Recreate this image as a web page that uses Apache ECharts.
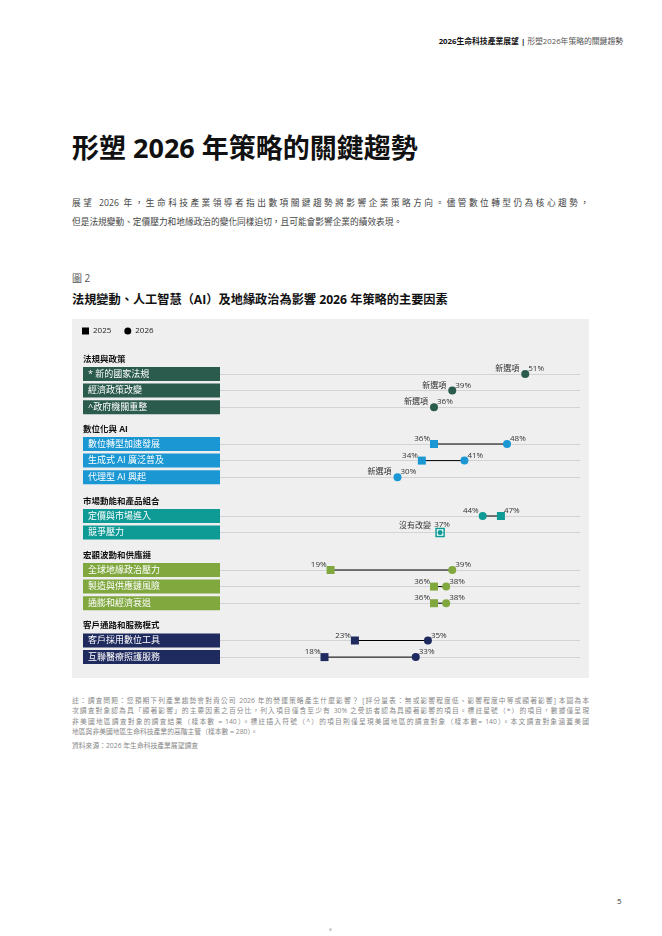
<!DOCTYPE html>
<html>
<head>
<title>2026 生命科技產業展望</title>
<meta charset="utf-8">
<script type="text/javascript" src="https://cdn.jsdelivr.net/npm/echarts@6.0.0/dist/echarts.min.js"></script>
<style>
	body { margin: 0; background: #fff; font-family: 'Open Sans', 'Noto Sans CJK TC', sans-serif; }
	.page { position: relative; width: 662px; height: 936px; overflow: hidden; }
	.abs { position: absolute; white-space: nowrap; }
	.just { text-align: justify; text-align-last: justify; }
</style>
</head>
<body>
<div class="page">
	<div class="abs" style="right:39px; top:36px; font-size:7.8px; line-height:11px; color:#555;"><b style="color:#111">2026生命科技產業展望</b> <b style="color:#111">|</b> 形塑2026年策略的關鍵趨勢</div>

	<div class="abs" style="left:72px; top:131px; font-size:27px; line-height:33px; font-weight:bold; color:#111;">形塑 2026 年策略的關鍵趨勢</div>

	<div class="abs just" style="left:72px; top:194px; width:517px; font-size:8.7px; line-height:19px; color:#444;">展望 2026 年，生命科技產業領導者指出數項關鍵趨勢將影響企業策略方向。儘管數位轉型仍為核心趨勢，</div>
	<div class="abs" style="left:72px; top:213px; font-size:8.7px; line-height:19px; color:#444;">但是法規變動、定價壓力和地緣政治的變化同樣迫切，且可能會影響企業的績效表現。</div>

	<div class="abs" style="left:72px; top:272px; font-size:10px; line-height:12px; color:#555;">圖 2</div>
	<div class="abs" style="left:72px; top:292px; font-size:12.2px; line-height:16px; font-weight:bold; color:#111;">法規變動、人工智慧（AI）及地緣政治為影響 2026 年策略的主要因素</div>

	<div id="main" style="position:absolute; left:72px; top:319px; width:517px; height:359px; background:#efefef;"></div>

	<div class="abs just" style="left:72px; top:696px; width:517px; font-size:6.8px; line-height:10.3px; color:#888;">註：調查問題：您預期下列產業趨勢會對貴公司 2026 年的營運策略產生什麼影響？ [評分量表：無或影響程度低、影響程度中等或顯著影響] 本圖為本</div>
	<div class="abs just" style="left:72px; top:706.3px; width:517px; font-size:6.8px; line-height:10.3px; color:#888;">次調查對象認為具「顯著影響」的主要因素之百分比，列入項目僅含至少有 30% 之受訪者認為具顯著影響的項目。標註星號（*）的項目，數據僅呈現</div>
	<div class="abs just" style="left:72px; top:716.6px; width:517px; font-size:6.8px; line-height:10.3px; color:#888;">非美國地區調查對象的調查結果（樣本數 = 140）。標註插入符號（^）的項目則僅呈現美國地區的調查對象（樣本數= 140）。本文調查對象涵蓋美國</div>
	<div class="abs" style="left:72px; top:726.9px; font-size:6.8px; line-height:10.3px; color:#888;">地區與非美國地區生命科技產業的高階主管（樣本數 = 280）。</div>
	<div class="abs" style="left:72px; top:741px; font-size:6.8px; line-height:10.3px; color:#888;">資料來源：2026 年生命科技產業展望調查</div>

	<div class="abs" style="left:617px; top:895px; font-size:8px; line-height:12px; color:#333;">5</div>
	<div class="abs" style="left:329px; top:928px; width:3px; height:3px; border-radius:2px; background:#ccc;"></div>
</div>
<script>
	// 各組類別與數值（%）
	const groupNames = ['法規與政策', '數位化與 AI', '市場動能和產品組合', '宏觀波動和供應鏈', '客戶通路和服務模式'];

	const regulationItems = ['* 新的國家法規', '經濟政策改變', '^政府機關重整'];
	const regulation2025 = [null, null, null];
	const regulation2026 = [51, 39, 36];

	const digitalItems = ['數位轉型加速發展', '生成式 AI 廣泛普及', '代理型 AI 興起'];
	const digital2025 = [36, 34, null];
	const digital2026 = [48, 41, 30];

	const marketItems = ['定價與市場進入', '競爭壓力'];
	const market2025 = [47, 37];
	const market2026 = [44, 37];

	const macroItems = ['全球地緣政治壓力', '製造與供應鏈風險', '通膨和經濟衰退'];
	const macro2025 = [19, 36, 36];
	const macro2026 = [39, 38, 38];

	const customerItems = ['客戶採用數位工具', '互聯醫療照護服務'];
	const customer2025 = [23, 18];
	const customer2026 = [35, 33];

	const newLabel = '新選項';
	const sameLabel = '沒有改變';

	// 樣式與版面
	const groupColors = ['#2b5b4d', '#1b98d4', '#0e9a95', '#80a83e', '#1f2a5f'];
	const gridTops = [55, 125, 197, 251, 321.5];
	const rowGap = 16.6;
	const FONT = "'Open Sans', 'Noto Sans CJK TC', sans-serif";

	const groups = [
		{ items: regulationItems, v25: regulation2025, v26: regulation2026 },
		{ items: digitalItems, v25: digital2025, v26: digital2026 },
		{ items: marketItems, v25: market2025, v26: market2026 },
		{ items: macroItems, v25: macro2025, v26: macro2026 },
		{ items: customerItems, v25: customer2025, v26: customer2026 }
	];

	var chartDom = document.getElementById('main');
	var myChart = echarts.init(chartDom);

	const grids = [], xAxes = [], yAxes = [], titles = [], seriesList = [];

	groups.forEach(function(g, i) {
		var color = groupColors[i];
		grids.push({
			left: 143, right: 9, top: gridTops[i],
			height: rowGap * (g.items.length - 1),
			outerBoundsMode: 'none'
		});
		xAxes.push({ gridIndex: i, type: 'value', min: 0, max: 60, show: false });
		yAxes.push({
			gridIndex: i,
			type: 'category',
			data: g.items,
			inverse: true,
			boundaryGap: false,
			axisLine: { show: false },
			axisTick: { show: false },
			splitLine: { show: true, lineStyle: { color: '#d3d3d3', width: 1 } },
			axisLabel: {
				interval: 0,
				margin: 132,
				align: 'left',
				width: 128,
				height: 13,
				lineHeight: 13,
				padding: [1, 4, 0, 5],
				backgroundColor: color,
				color: '#fff',
				fontSize: 9,
				fontFamily: FONT,
				overflow: 'none'
			}
		});
		titles.push({
			text: groupNames[i],
			left: 11,
			top: gridTops[i] - 14.5 - 6,
			padding: 0,
			textStyle: { fontSize: 8.5, lineHeight: 12, fontWeight: 'bold', color: '#111', fontFamily: FONT }
		});

		// 連線與註記
		seriesList.push({
			type: 'custom',
			xAxisIndex: i,
			yAxisIndex: i,
			z: 1,
			silent: true,
			encode: { x: [0, 1], y: 2 },
			data: g.items.map(function(_n, k) {
				return [g.v25[k] == null ? NaN : g.v25[k], g.v26[k], k];
			}),
			renderItem: function(params, api) {
				var a = api.value(0), b = api.value(1), row = api.value(2);
				var p26 = api.coord([b, row]);
				var txt = { fontSize: 8, fill: '#333', fontFamily: FONT, align: 'right', verticalAlign: 'middle' };
				if (isNaN(a)) {
					return { type: 'text', x: p26[0] - 6, y: p26[1] - 5, style: Object.assign({ text: newLabel }, txt) };
				}
				if (a === b) {
					return { type: 'text', x: p26[0] - 9, y: p26[1] - 7, style: Object.assign({ text: sameLabel }, txt) };
				}
				var p25 = api.coord([a, row]);
				return {
					type: 'line',
					shape: { x1: p25[0], y1: p25[1], x2: p26[0], y2: p26[1] },
					style: { stroke: '#000', lineWidth: 1 }
				};
			}
		});

		var lblBase = { show: true, fontSize: 8, color: '#333', fontFamily: FONT, distance: 1 };
		var data25 = [], data26 = [];
		g.items.forEach(function(_n, k) {
			var a = g.v25[k], b = g.v26[k];
			if (a != null) {
				var same = a === b;
				data25.push({
					value: [a, k],
					itemStyle: same ? { color: '#fff', borderColor: color, borderWidth: 1.5 } : undefined,
					label: same ? { show: false } : Object.assign({}, lblBase, a < b
						? { position: 'left', offset: [1, -5] }
						: { position: 'right', offset: [-2, -5] })
				});
			}
			var pos;
			if (a == null || b > a) pos = { position: 'right', offset: [-2, -5] };
			else if (b < a) pos = { position: 'left', offset: [1, -5] };
			else pos = { position: 'top', offset: [2, 1], distance: 2 };
			data26.push({
				value: [b, k],
				symbolSize: a === b ? 5 : 8,
				label: Object.assign({}, lblBase, pos)
			});
		});

		seriesList.push({
			type: 'scatter', name: '2025', xAxisIndex: i, yAxisIndex: i, z: 3,
			symbol: 'rect', symbolSize: 8,
			itemStyle: { color: color, opacity: 1 },
			label: { formatter: function(p) { return p.value[0] + '%'; } },
			data: data25
		});
		seriesList.push({
			type: 'scatter', name: '2026', xAxisIndex: i, yAxisIndex: i, z: 4,
			symbol: 'circle', symbolSize: 8,
			itemStyle: { color: color, opacity: 1 },
			label: { formatter: function(p) { return p.value[0] + '%'; } },
			data: data26
		});
	});

	var option = {
		animation: false,
		textStyle: { fontFamily: FONT },
		title: titles,
		legend: {
			left: 10,
			top: 8,
			padding: 0,
			itemWidth: 7,
			itemHeight: 7,
			itemGap: 13,
			selectedMode: false,
			textStyle: { fontSize: 8, color: '#222', fontFamily: FONT, padding: [0, 0, 0, -1] },
			data: [
				{ name: '2025', icon: 'rect', itemStyle: { color: '#000' } },
				{ name: '2026', icon: 'circle', itemStyle: { color: '#000' } }
			]
		},
		grid: grids,
		xAxis: xAxes,
		yAxis: yAxes,
		series: seriesList
	};
	myChart.setOption(option);
</script>
</body>
</html>
